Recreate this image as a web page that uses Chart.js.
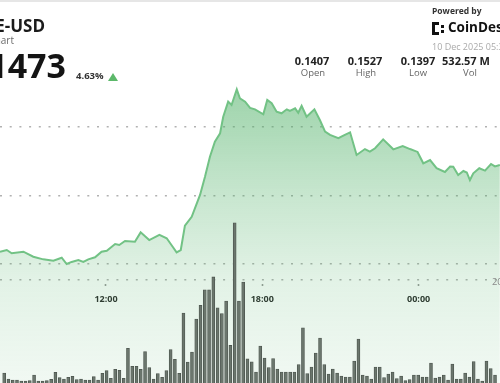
<!DOCTYPE html>
<html><head><meta charset="utf-8">
<script src="https://cdn.jsdelivr.net/npm/chart.js@4.4.0/dist/chart.umd.min.js"></script>
<style>
html,body{margin:0;padding:0;width:500px;height:383px;overflow:hidden;background:#fff;font-family:"Open Sans",sans-serif;}
#wrap{position:relative;width:500px;height:383px;overflow:hidden;background:#fff;}
#c{position:absolute;left:0;top:0;}
.t{position:absolute;white-space:nowrap;line-height:1;}
.col{position:absolute;width:70px;text-align:center;white-space:nowrap;line-height:1;}
</style></head><body>
<div id="wrap">
<canvas id="c" width="500" height="383"></canvas>
<div style="position:absolute;left:0;top:0;width:500px;height:2px;background:#e6e6e6"></div>
<div class="t" style="right:455px;top:17px;font-size:17px;font-weight:700;color:#1b1b1b">DOGE-USD</div>
<div class="t" style="right:486px;top:35px;font-size:10px;color:#6b6b6b">Price Chart</div>
<div class="t" style="right:434px;top:48px;font-size:34px;font-weight:700;color:#141414">0.1473</div>
<div class="t" style="left:76px;top:71px;font-size:9.5px;font-weight:700;color:#333">4.63%</div>
<div style="position:absolute;left:108px;top:73px;width:0;height:0;border-left:5px solid transparent;border-right:5px solid transparent;border-bottom:8px solid #5cb86a"></div>

<div class="t" style="left:432px;top:7px;font-size:8.5px;font-weight:700;color:#333">Powered by</div>
<svg style="position:absolute;left:432px;top:22px" width="14" height="13" viewBox="0 0 14 13">
<rect x="0" y="0" width="3" height="13" fill="#111"/><rect x="0" y="0" width="7" height="3" fill="#111"/><rect x="0" y="10" width="7" height="3" fill="#111"/>
<rect x="9" y="3" width="3" height="3" fill="#111"/><rect x="9" y="8" width="3" height="3" fill="#111"/></svg>
<div class="t" style="left:448px;top:21px;font-size:13.5px;font-weight:700;color:#111">CoinDesk</div>
<div class="t" style="left:432px;top:42px;font-size:9px;color:#aaa">10 Dec 2025 05:30 UTC</div>

<div class="col" style="left:277px;top:55px;font-size:11px;font-weight:700;color:#222">0.1407</div>
<div class="col" style="left:330px;top:55px;font-size:11px;font-weight:700;color:#222">0.1527</div>
<div class="col" style="left:383px;top:55px;font-size:11px;font-weight:700;color:#222">0.1397</div>
<div class="col" style="left:431px;top:55px;font-size:11px;font-weight:700;color:#222">532.57 M</div>
<div class="col" style="left:278px;top:68px;font-size:9.5px;color:#666">Open</div>
<div class="col" style="left:331px;top:68px;font-size:9.5px;color:#666">High</div>
<div class="col" style="left:383px;top:68px;font-size:9.5px;color:#666">Low</div>
<div class="col" style="left:435px;top:68px;font-size:9.5px;color:#666">Vol</div>
<div class="t" style="left:492px;top:277px;font-size:9.4px;color:#888">20M</div>
</div>
<script>
// time in hours (12 = 12:00, 24 = 00:00 next day)
const priceTimes = [7.93,8.19,8.38,8.83,9.21,9.59,9.98,10.30,10.49,10.68,10.94,11.13,11.32,11.58,11.83,12.03,12.35,12.51,12.73,13.11,13.33,13.66,14.05,14.33,14.56,14.71,14.87,15.03,15.29,15.61,15.80,15.99,16.18,16.38,16.50,16.69,16.82,17.02,17.14,17.34,17.53,17.72,18.04,18.19,18.36,18.55,18.74,18.94,19.06,19.26,19.38,19.51,19.70,20.00,20.21,20.41,20.60,20.92,21.17,21.37,21.62,21.94,22.13,22.33,22.64,23.03,23.39,23.67,23.96,24.18,24.44,24.69,25.01,25.21,25.33,25.52,25.72,25.85,25.97,26.10,26.33,26.55,26.78,26.93,27.12];
const priceValues = [0.14090,0.14102,0.14078,0.14090,0.14053,0.14034,0.14024,0.14046,0.14000,0.14015,0.14029,0.14015,0.14034,0.14049,0.14090,0.14097,0.14146,0.14139,0.14168,0.14163,0.14231,0.14175,0.14212,0.14188,0.14126,0.14085,0.14102,0.14280,0.14345,0.14504,0.14637,0.14783,0.14893,0.14954,0.15075,0.15185,0.15161,0.15275,0.15209,0.15185,0.15139,0.15129,0.15093,0.15197,0.15173,0.15112,0.15100,0.15129,0.15117,0.15136,0.15104,0.15155,0.15075,0.15129,0.15051,0.14966,0.14942,0.14918,0.14942,0.14961,0.14796,0.14839,0.14820,0.14845,0.14910,0.14837,0.14861,0.14839,0.14818,0.14735,0.14759,0.14699,0.14672,0.14712,0.14710,0.14650,0.14679,0.14668,0.14613,0.14662,0.14699,0.14682,0.14730,0.14712,0.14723];
// volume bars (millions), one per interval
const volStart = 8.092;
const volStep = 0.16384;
const volumes = [1.94,0.78,0.58,0.58,0.39,0.39,0.45,1.55,0.39,0.39,0.45,0.72,2.08,1.03,0.78,1.10,1.30,0.65,0.78,0.58,0.58,1.23,0.58,1.88,2.39,0.91,2.66,2.46,0.91,6.73,3.24,3.24,2.66,6.08,2.98,0.78,1.85,1.10,2.39,6.50,4.60,1.88,13.6,4.08,6.02,12.4,15.1,18.1,18.1,20.6,14.6,13.5,15.9,7.3,31.1,15.9,19.6,4.7,4.1,2.14,7.18,4.85,3.0,4.75,2.72,2.14,2.14,2.14,2.14,3.6,10.7,1.85,3.11,5.83,8.74,3.6,1.75,2.72,1.94,1.36,1.17,1.17,4.27,8.54,1.55,1.36,0.78,3.11,3.11,1.07,1.75,2.14,0.87,1.36,0.49,0.68,1.55,1.55,1.17,1.17,3.88,0.97,1.17,1.55,0.58,3.69,0.78,0.78,1.94,1.17,4.17,0.78,0.39,4.27,2.8,1.55];
const xTicks = [12, 18, 24];
const priceTicks = [0.140, 0.145, 0.150];
const volTicks = [20];

const dotGrid = {color:'rgba(135,135,135,0.65)', lineWidth:1.6, drawTicks:false};

function fillGradient(context){
  const chart = context.chart;
  const area = chart.chartArea;
  if(!area) return 'rgba(76,175,100,0.3)';
  const g = chart.ctx.createLinearGradient(0, area.top, 0, area.bottom);
  g.addColorStop(0, 'rgba(76,175,100,0.62)');
  g.addColorStop(0.235, 'rgba(76,175,100,0.54)');
  g.addColorStop(0.52, 'rgba(76,175,100,0.30)');
  g.addColorStop(0.73, 'rgba(76,175,100,0.16)');
  g.addColorStop(1, 'rgba(76,175,100,0.08)');
  return g;
}

new Chart(document.getElementById('c'), {
  data: {
    datasets: [
      {
        type:'bar',
        data: volumes.map((v,i)=>({x: volStart + i*volStep, y: v})),
        xAxisID:'x', yAxisID:'yv',
        backgroundColor:'#6b766d', borderColor:'#4c554e', borderWidth:0.8,
        barThickness:3, order:1
      },
      {
        type:'line',
        data: priceTimes.map((t,i)=>({x:t, y:priceValues[i]})),
        xAxisID:'x', yAxisID:'y',
        borderColor:'#72c285', borderWidth:2, pointRadius:0, tension:0,
        fill:'start', backgroundColor: fillGradient, order:2
      }
    ]
  },
  options: {
    responsive:false, animation:false, devicePixelRatio:1,
    layout:{padding:0},
    plugins:{legend:{display:false}, tooltip:{enabled:false}},
    scales: {
      x: {
        type:'linear', min:7.931, max:27.125, offset:false,
        position:{yv:20},
        afterFit(s){ s.height = 0; },
        afterBuildTicks(s){ s.ticks = xTicks.map(v=>({value:v})); },
        grid:{offset:false, drawOnChartArea:false, drawTicks:true, tickLength:6, tickColor:'#999', tickWidth:1.6, tickBorderDash:[0,4,2,100]},
        border:{display:false},
        ticks:{padding:8, color:'#2a2a2a', font:{family:'Open Sans', size:9, weight:'bold'}, maxRotation:0, autoSkip:false,
          callback:(v)=> String(((v%24)+24)%24).padStart(2,'0') + ':00'}
      },
      y: {
        type:'linear', min:0.131314, max:0.159270, position:'left',
        afterFit(s){ s.width = 0; },
        afterBuildTicks(s){ s.ticks = priceTicks.map(v=>({value:v})); },
        ticks:{display:false},
        grid: dotGrid,
        border:{display:false, dash:[2,7.7]}
      },
      yv: {
        type:'linear', min:0, max:74.37, position:'right',
        afterFit(s){ s.width = 0; },
        afterBuildTicks(s){ s.ticks = volTicks.map(v=>({value:v})); },
        ticks:{display:false},
        grid: dotGrid,
        border:{display:false, dash:[2,7.7]}
      }
    }
  }
});
</script>
</body></html>
